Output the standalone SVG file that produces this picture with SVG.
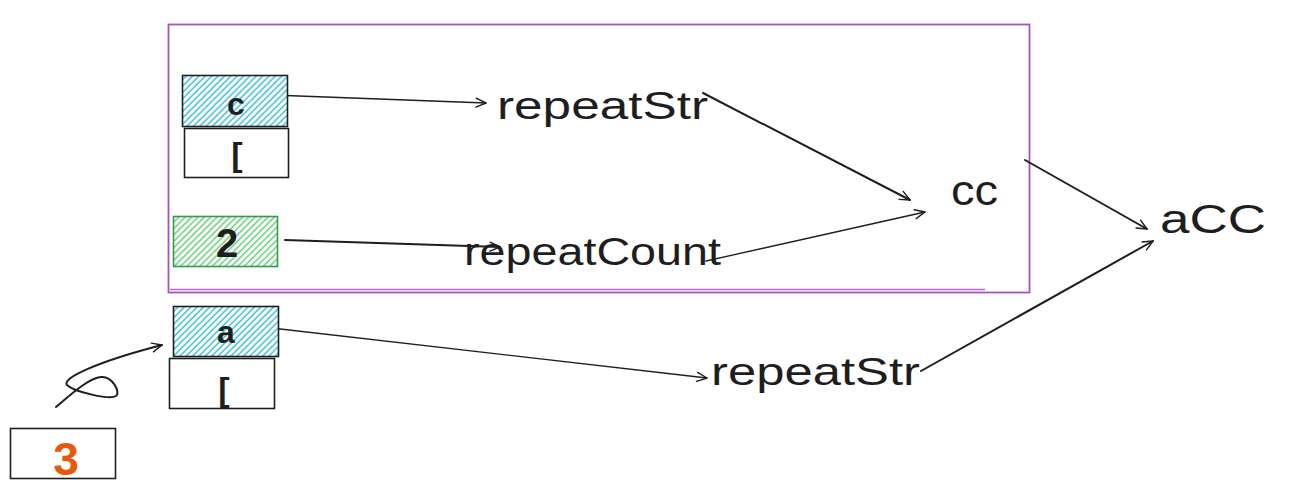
<svg xmlns="http://www.w3.org/2000/svg" width="1312" height="497" viewBox="0 0 1312 497">
<style>
.box{stroke:#1e1e1e;stroke-width:1.6;}
.t{font-family:"Liberation Sans",Arial,sans-serif;fill:#1e1e1e;}
.conn{fill:none;stroke:#1e1e1e;stroke-width:1.3;stroke-linecap:round;}
.thick{stroke-width:2;}
</style>
<defs>
<pattern id="hc" patternUnits="userSpaceOnUse" width="4.5" height="4.5" patternTransform="rotate(45)">
<rect width="4.5" height="4.5" fill="#ffffff"/>
<line x1="1" y1="0" x2="1" y2="4.5" stroke="#3ec1d6" stroke-width="1.5"/>
</pattern>
<pattern id="hg" patternUnits="userSpaceOnUse" width="4.5" height="4.5" patternTransform="rotate(45)">
<rect width="4.5" height="4.5" fill="#ffffff"/>
<line x1="1" y1="0" x2="1" y2="4.5" stroke="#69d07d" stroke-width="1.5"/>
</pattern>
<marker id="ah" viewBox="0 0 12 12" refX="11" refY="6" markerWidth="12" markerHeight="12" markerUnits="userSpaceOnUse" orient="auto">
<path d="M1,1.5 L11,6 L1,10.5" fill="none" stroke="#1e1e1e" stroke-width="1.4" stroke-linecap="round" stroke-linejoin="round"/>
</marker>
</defs>
<rect width="1312" height="497" fill="#ffffff"/>

<g id="frame">
<rect x="168.5" y="24.5" width="861" height="268" fill="none" stroke="#a552c2" stroke-width="1.8"/>
<line x1="170" y1="289.5" x2="985" y2="289.5" stroke="#b36ac6" stroke-width="1.5"/>
</g>

<g id="connectors">
<path class="conn" d="M272,95 L486,103" marker-end="url(#ah)"/>
<path class="conn thick" d="M285,240 L500,247" marker-end="url(#ah)"/>
<path class="conn" d="M263,327 L707,378" marker-end="url(#ah)"/>
<path class="conn thick" d="M703,93 L910,200" marker-end="url(#ah)"/>
<path class="conn" d="M706,261 L925,212" marker-end="url(#ah)"/>
<path class="conn thick" d="M1025,160 L1147,229" marker-end="url(#ah)"/>
<path class="conn thick" d="M921,371 L1153,241" marker-end="url(#ah)"/>
<path class="conn thick" d="M56,407 C68,397 88,378 101,377 C112,376 121,392 116,396 C110,400 74,392 67,385 C61,378 100,361 162,345" marker-end="url(#ah)"/>
</g>

<g id="node-c">
<rect class="box" x="182.5" y="75.5" width="105" height="51" fill="url(#hc)"/>
<text class="t" x="236" y="115" font-size="32" font-weight="bold" text-anchor="middle">c</text>
</g>
<g id="node-bracket1">
<rect class="box" x="184.5" y="128.5" width="104" height="49" fill="#ffffff"/>
<text class="t" x="237" y="166" font-size="34" font-weight="bold" text-anchor="middle">[</text>
</g>
<g id="node-2">
<rect x="173.5" y="216.5" width="104" height="50" fill="url(#hg)" stroke="#2f9e44" stroke-width="1.6"/>
<text class="t" x="227" y="257" font-size="40" font-weight="bold" text-anchor="middle">2</text>
</g>
<g id="node-a">
<rect class="box" x="173.5" y="306.5" width="105" height="50" fill="url(#hc)"/>
<text class="t" x="226" y="343" font-size="32" font-weight="bold" text-anchor="middle">a</text>
</g>
<g id="node-bracket2">
<rect class="box" x="169.5" y="358.5" width="105" height="50" fill="#ffffff"/>
<text class="t" x="224" y="401" font-size="34" font-weight="bold" text-anchor="middle">[</text>
</g>
<g id="node-3">
<rect class="box" x="10.5" y="428.5" width="105" height="50" fill="#ffffff"/>
<text class="t" x="66" y="475" font-size="46" font-weight="bold" text-anchor="middle" style="fill:#e8590c">3</text>
</g>

<g id="label-repeatStr1">
<text class="t" x="497" y="119" font-size="38" textLength="211" lengthAdjust="spacingAndGlyphs">repeatStr</text>
</g>
<g id="label-repeatCount">
<text class="t" x="464" y="265" font-size="38" textLength="257" lengthAdjust="spacingAndGlyphs">repeatCount</text>
</g>
<g id="label-cc">
<text class="t" x="951" y="205" font-size="42" textLength="47" lengthAdjust="spacingAndGlyphs">cc</text>
</g>
<g id="label-aCC">
<text class="t" x="1160" y="233" font-size="40" textLength="106" lengthAdjust="spacingAndGlyphs">aCC</text>
</g>
<g id="label-repeatStr2">
<text class="t" x="711" y="385" font-size="38" textLength="209" lengthAdjust="spacingAndGlyphs">repeatStr</text>
</g>
</svg>
